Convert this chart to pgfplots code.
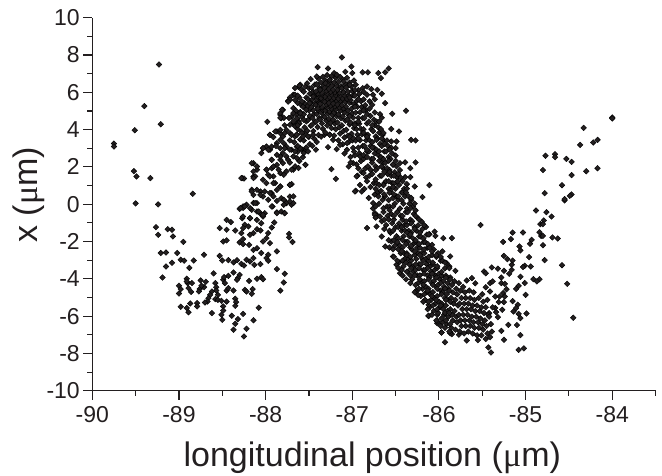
\documentclass[border=0pt]{standalone}
\usepackage{pgfplots}
\pgfplotsset{compat=1.18}
\usepackage{fontspec}
\setmainfont{Liberation Sans}
\newfontfamily\muf{Liberation Serif}
\definecolor{ink}{HTML}{231F20}
\begin{document}
\begin{tikzpicture}[x=1pt,y=1pt]
\useasboundingbox (-92.3pt,-84.3pt) rectangle (569.7pt,390.7pt);
\begin{axis}[
  scale only axis, width=563.3pt, height=373pt,
  xmin=-90, xmax=-83.5, ymin=-10, ymax=10,
  axis x line*=bottom, axis y line*=left,
  axis line style={ink,line width=1.2pt},
  every tick/.style={ink,line width=1.1pt},
  tick align=outside,
  major tick length=9pt, minor tick length=5pt,
  xtick={-90,-89,-88,-87,-86,-85,-84},
  xticklabels={-90,-89,-88,-87,-86,-85,-84},
  minor xtick={-89.5,-88.5,-87.5,-86.5,-85.5,-84.5,-83.5},
  ytick={-10,-8,-6,-4,-2,0,2,4,6,8,10},
  yticklabels={-10,-8,-6,-4,-2,0,2,4,6,8,10},
  minor ytick={-9,-7,-5,-3,-1,1,3,5,7,9},
  ticklabel style={font=\fontsize{23}{25}\selectfont,text=ink},
  xticklabel style={yshift=-3pt},
  xlabel={longitudinal position ({\muf μ}m)},
  ylabel={x ({\muf μ}m)},
  label style={font=\fontsize{34}{36}\selectfont,text=ink},
  xlabel style={at={(axis description cs:0.497,0)},anchor=base,yshift=-76pt},
  ylabel style={at={(axis description cs:0,0.525)},anchor=base,yshift=55pt},
  clip=false
]
\addplot[only marks,mark=square*,mark size=2pt,mark options={rotate=45,draw=none,fill=ink}] coordinates {
(-89.23,7.49)(-89.40,5.26)(-89.21,4.29)(-89.51,3.97)(-89.75,3.25)(-89.75,3.09)(-89.52,1.77)(-89.49,1.49)(-89.33,1.40)(-88.84,0.56)(-89.50,0.04)(-89.24,-0.01)(-88.27,1.40)(-88.25,1.38)(-87.98,4.42)
(-89.265,-1.23)(-89.24,-1.64)(-89.13,-1.34)(-89.08,-1.37)(-89.07,-1.73)(-88.95,-2.02)(-89.21,-2.62)(-89.15,-2.59)(-89.02,-2.62)(-88.71,-2.71)(-88.98,-2.98)(-88.94,-3.03)(-88.83,-3.02)(-89.08,-3.14)(-89.15,-3.34)(-88.88,-3.41)(-89.19,-3.93)(-88.53,-2.77)(-88.50,-3.02)(-88.43,-3.0)(-88.37,-3.12)(-88.33,-3.0)(-88.28,-3.2)(-88.25,-3.29)(-88.60,-3.71)
(-88.91,-4.0)(-88.9,-4.23)(-88.91,-4.14)(-88.89,-4.5)(-89.0,-4.37)(-88.98,-4.55)(-89.0,-4.79)(-88.85,-4.23)(-88.86,-4.7)(-88.75,-4.09)(-88.69,-4.16)(-88.71,-4.45)(-88.76,-4.55)(-88.74,-4.37)(-88.77,-4.68)(-88.58,-4.23)(-88.57,-4.45)(-88.57,-4.63)(-88.62,-4.68)(-88.64,-4.86)(-88.66,-5.04)(-88.67,-5.22)(-88.55,-4.86)(-88.58,-5.09)(-88.55,-5.13)(-88.51,-5.18)(-88.45,-5.22)(-88.49,-4.05)(-88.47,-4.23)(-88.43,-3.84)(-88.37,-3.66)(-88.48,-3.91)(-88.45,-4.63)(-88.37,-4.63)(-88.43,-4.5)(-88.3,-3.79)(-88.32,-3.96)(-88.33,-4.05)(-88.24,-4.59)(-88.22,-4.68)(-88.19,-4.11)(-88.15,-4.55)(-88.16,-4.8)(-88.1,-4.0)(-88.05,-3.91)(-88.03,-4.02)(-88.35,-5.07)(-88.34,-5.25)(-88.35,-5.45)(-88.49,-5.48)(-88.49,-5.7)(-88.51,-5.93)(-88.5,-6.2)(-88.62,-5.84)(-88.39,-5.98)(-88.32,-6.16)(-88.35,-6.41)(-88.37,-6.73)(-88.26,-5.88)(-88.22,-6.68)(-88.25,-7.09)(-88.14,-6.22)(-88.08,-5.55)(-88.98,-5.5)(-88.91,-5.57)(-88.89,-5.79)(-88.87,-5.32)(-88.79,-5.3)(-88.79,-5.48)(-88.7,-5.27)(-87.87,-3.48)(-87.78,-3.73)(-87.79,-4.2)(-87.83,-4.63)(-87.87,-2.53)(-87.73,-1.59)(-87.73,-1.78)(-87.69,-2.03)
(-88.14,0.06)(-88.10,0.06)(-88.26,-0.12)(-88.30,-0.25)(-88.22,-0.03)(-88.16,-0.30)(-88.10,-0.39)(-88.06,-0.51)(-88.03,-0.66)(-88.01,-0.48)(-88.27,-0.75)(-88.18,-0.75)(-88.10,-0.84)(-88.05,-1.02)(-88.24,-1.10)(-88.26,-1.28)(-88.20,-1.19)(-88.10,-1.34)(-88.06,-1.41)(-88.14,-1.55)(-88.18,-1.64)(-88.28,-1.55)(-87.97,-1.55)(-87.93,-1.25)(-87.90,-0.98)(-87.87,-0.44)(-87.82,-0.39)(-87.78,-0.48)(-87.92,-0.12)(-87.87,0.18)(-87.76,0.06)(-87.70,-0.03)(-87.99,-1.82)(-87.95,-2.09)(-88.03,-2.0)(-88.10,-2.36)(-88.14,-2.45)(-88.05,-2.62)(-87.97,-2.71)(-87.99,-2.89)(-87.97,-3.03)(-88.14,-2.89)(-88.18,-3.07)(-88.22,-2.98)(-88.49,-2.0)(-88.45,-1.94)(-88.26,-1.87)(-88.30,-2.05)(-88.26,-2.14)(-88.19,-2.18)(-88.53,-1.28)(-88.45,-0.84)(-88.40,-0.96)(-88.45,-1.37)(-88.35,-1.41)(-88.06,-3.21)(-88.13,-3.25)
(-87.62,6.28)(-87.68,5.87)(-87.72,5.72)(-87.74,5.54)(-87.80,5.06)(-87.83,4.79)(-87.82,4.61)(-87.68,5.15)(-87.64,4.79)(-87.70,4.70)(-87.68,4.35)(-87.72,4.26)(-87.62,4.44)(-87.95,3.72)(-87.91,3.6)(-87.87,3.9)(-87.83,3.81)(-87.80,3.63)(-87.76,3.99)(-87.72,3.81)(-87.66,3.63)(-88.03,3.0)(-87.99,3.09)(-87.95,2.92)(-88.05,2.74)(-87.93,2.38)(-87.87,3.27)(-87.83,3.0)(-87.8,2.74)(-87.76,3.09)(-87.7,2.92)(-87.64,3.09)(-87.68,2.56)(-87.76,2.56)(-87.62,2.38)(-87.83,2.38)(-87.8,2.2)(-87.87,2.11)(-87.93,1.93)(-87.99,1.85)(-87.97,1.58)(-88.03,1.31)(-88.14,2.2)(-88.10,1.85)(-88.14,1.49)(-87.91,1.49)(-87.83,1.67)(-87.76,1.76)(-87.68,1.85)(-87.72,1.04)(-88.16,0.77)(-88.06,0.68)(-88.14,0.5)(-88.03,0.41)(-87.93,0.59)(-87.87,0.77)(-87.82,0.32)(-87.72,0.41)(-87.68,0.06)(-88.26,-0.2)(-87.76,0.06)(-87.97,0.24)(-87.83,0.95)(-87.89,1.13)
(-87.12,7.87)(-87.40,7.35)(-87.28,7.28)(-87.01,7.38)(-86.58,7.28)(-87.08,7.1)(-87.0,7.03)(-86.88,7.07)(-86.82,7.07)(-86.70,7.03)(-86.62,7.07)(-86.67,6.76)(-87.48,6.71)(-87.21,7.03)(-86.38,5.01)(-86.54,4.85)(-86.62,5.42)(-86.83,6.31)(-86.78,6.17)(-86.71,6.13)(-86.66,5.92)(-86.83,5.87)(-86.76,5.87)(-86.80,5.51)(-86.74,5.63)(-86.74,4.92)(-86.55,4.03)(-86.46,3.9)(-86.32,3.45)(-86.27,3.42)(-86.49,3.36)(-86.55,3.36)(-86.5,3.01)(-86.5,2.61)(-86.27,2.24)(-86.39,2.24)(-86.45,2.2)(-86.33,1.93)(-86.39,1.45)(-86.33,1.45)(-86.11,1.02)(-86.28,0.95)(-86.37,1.08)(-86.19,0.38)(-87.24,1.88)(-87.19,1.36)(-87.09,2.72)(-87.54,2.11)(-87.57,2.52)(-87.42,2.92)(-87.70,1.08)(-87.28,3.06)(-87.18,2.95)(-87.32,3.72)
(-84.88,-0.34)(-84.76,-0.43)(-84.70,-0.66)(-84.79,-0.87)(-84.83,-1.07)(-84.80,-1.07)(-84.55,0.2)(-85.52,-1.12)(-85.15,-1.52)(-85.03,-1.52)(-84.84,-1.5)(-84.82,-1.7)(-84.80,-1.7)(-84.69,-1.78)(-84.63,-1.84)(-84.93,-1.91)(-85.17,-1.87)(-85.26,-2.02)(-84.95,-2.12)(-84.80,-2.2)(-85.07,-2.27)(-85.06,-2.48)(-84.96,-2.84)(-84.78,-3.0)(-84.58,-3.27)(-85.25,-2.77)(-85.21,-2.95)(-85.15,-3.02)(-85.16,-3.25)(-85.01,-3.3)(-85.03,-3.37)(-84.94,-3.34)(-85.39,-3.39)(-85.32,-3.46)(-85.48,-3.61)(-85.46,-3.7)(-85.25,-3.57)(-85.16,-3.52)(-85.19,-3.73)(-85.28,-3.93)(-85.06,-3.89)(-84.91,-4.02)(-84.84,-4.02)(-84.87,-4.14)(-85.01,-4.23)(-84.52,-4.27)(-85.28,-4.23)(-85.24,-4.27)(-85.08,-4.38)(-85.11,-4.54)(-85.22,-4.56)(-85.26,-4.77)(-85.0,-4.86)(-85.35,-4.95)(-85.30,-4.95)(-85.24,-4.95)(-85.31,-5.25)(-85.25,-5.25)(-85.15,-5.2)(-85.09,-5.39)(-85.11,-5.57)(-85.14,-5.75)(-85.08,-5.88)(-84.99,-5.86)(-85.06,-6.11)(-85.27,-5.66)(-85.35,-5.57)(-85.34,-5.79)(-85.32,-6.06)(-85.42,-5.84)(-85.2,-6.47)(-85.10,-6.48)(-85.28,-6.79)(-85.06,-7.02)(-85.25,-7.27)(-85.08,-7.81)(-85.02,-7.73)(-84.45,-6.09)(-85.43,-7.68)(-85.40,-7.95)(-85.55,-7.29)(-85.68,-7.31)(-85.77,-7.0)(-85.93,-7.4)(-85.97,-6.88)(-85.87,-6.83)(-85.85,-6.97)(-86.12,-6.0)(-86.02,-5.93)(-86.02,-6.38)(-86.05,-1.47)(-86.11,-1.61)(-86.04,-1.7)(-85.95,-1.82)(-85.85,-1.82)(-86.08,-2.18)(-85.96,-2.53)(-85.87,-2.8)(-85.91,-3.16)(-85.81,-3.57)(-85.68,-4.09)(-85.62,-3.96)(-85.58,-4.24)(-85.41,-4.23)(-85.46,-4.45)(-85.38,-4.14)(-85.41,-4.68)
(-84.0,4.65)(-84.0,4.6)(-84.33,4.09)(-84.17,3.45)(-84.22,3.31)(-84.37,3.18)(-84.77,2.6)(-84.66,2.68)(-84.66,2.52)(-84.53,2.43)(-84.47,2.27)(-84.80,1.83)(-84.17,1.93)(-84.30,1.77)(-84.47,1.56)(-84.58,1.02)(-84.78,0.59)(-84.47,0.52)(-84.49,0.45)(-84.55,0.27)
(-87.66,2.03)(-87.63,2.81)(-87.67,3.32)(-87.64,3.74)(-87.66,4.18)(-87.63,4.03)(-87.65,5.02)(-87.63,5.43)(-87.66,5.58)
(-87.61,2.31)(-87.58,2.93)(-87.60,3.47)(-87.59,3.91)(-87.61,4.32)(-87.58,4.68)(-87.60,4.94)(-87.59,5.33)(-87.61,5.71)(-87.58,6.12)(-87.60,6.41)
(-87.55,2.84)(-87.53,3.04)(-87.56,3.42)(-87.54,3.83)(-87.55,4.12)(-87.53,4.44)(-87.56,4.82)(-87.54,5.13)(-87.55,5.41)(-87.53,5.72)(-87.56,6.03)(-87.54,6.31)
(-87.51,2.83)(-87.49,3.22)(-87.50,3.61)(-87.52,3.94)(-87.48,4.21)(-87.51,4.52)(-87.49,4.73)(-87.50,5.02)(-87.52,5.24)(-87.48,5.43)(-87.51,5.62)(-87.49,5.93)(-87.50,6.22)(-87.52,6.48)
(-87.46,3.13)(-87.44,3.52)(-87.45,3.92)(-87.47,4.23)(-87.43,4.41)(-87.46,4.62)(-87.44,4.83)(-87.45,5.04)(-87.47,5.22)(-87.43,5.41)(-87.46,5.63)(-87.44,5.82)(-87.45,6.03)(-87.47,6.24)(-87.43,6.42)
(-87.41,3.34)(-87.39,3.71)(-87.40,4.13)(-87.42,4.42)(-87.38,4.61)(-87.41,4.83)(-87.39,5.02)(-87.40,5.14)(-87.42,5.33)(-87.38,5.44)(-87.41,5.62)(-87.39,5.73)(-87.40,5.92)(-87.42,6.04)(-87.38,6.22)(-87.41,6.43)(-87.39,6.74)
(-87.36,3.62)(-87.34,4.04)(-87.35,4.33)(-87.37,4.54)(-87.33,4.73)(-87.36,4.92)(-87.34,5.06)(-87.35,5.22)(-87.37,5.38)(-87.33,5.53)(-87.36,5.68)(-87.34,5.84)(-87.35,5.98)(-87.37,6.14)(-87.33,6.32)(-87.36,6.52)(-87.34,6.83)
(-87.31,3.84)(-87.29,4.22)(-87.30,4.48)(-87.32,4.68)(-87.28,4.86)(-87.31,5.03)(-87.29,5.18)(-87.30,5.34)(-87.32,5.49)(-87.28,5.63)(-87.31,5.78)(-87.29,5.93)(-87.30,6.08)(-87.32,6.24)(-87.28,6.42)(-87.31,6.63)(-87.29,6.92)
(-87.26,3.73)(-87.24,4.08)(-87.25,4.36)(-87.27,4.58)(-87.23,4.78)(-87.26,4.96)(-87.24,5.12)(-87.25,5.28)(-87.27,5.43)(-87.23,5.58)(-87.26,5.73)(-87.24,5.88)(-87.25,6.02)(-87.27,6.18)(-87.23,6.36)(-87.26,6.58)(-87.24,6.86)
(-87.21,3.68)(-87.19,4.02)(-87.20,4.32)(-87.22,4.53)(-87.18,4.72)(-87.21,4.91)(-87.19,5.08)(-87.20,5.24)(-87.22,5.39)(-87.18,5.54)(-87.21,5.69)(-87.19,5.84)(-87.20,5.99)(-87.22,6.14)(-87.18,6.31)(-87.21,6.52)(-87.19,6.78)
(-87.16,3.42)(-87.14,3.78)(-87.15,4.12)(-87.17,4.38)(-87.13,4.61)(-87.16,4.82)(-87.14,5.01)(-87.15,5.18)(-87.17,5.34)(-87.13,5.51)(-87.16,5.66)(-87.14,5.82)(-87.15,5.98)(-87.17,6.13)(-87.13,6.33)(-87.16,6.56)(-87.14,6.82)
(-87.11,3.22)(-87.09,3.58)(-87.10,3.93)(-87.12,4.23)(-87.08,4.48)(-87.11,4.71)(-87.09,4.92)(-87.10,5.13)(-87.12,5.31)(-87.08,5.49)(-87.11,5.66)(-87.09,5.84)(-87.10,6.02)(-87.12,6.22)(-87.08,6.44)(-87.11,6.68)
(-87.06,2.92)(-87.04,3.34)(-87.05,3.68)(-87.07,3.99)(-87.03,4.28)(-87.06,4.53)(-87.04,4.78)(-87.05,5.02)(-87.07,5.23)(-87.03,5.44)(-87.06,5.64)(-87.04,5.83)(-87.05,6.03)(-87.07,6.26)(-87.03,6.52)(-87.06,6.78)
(-87.02,2.53)(-86.99,3.02)(-87.00,3.42)(-87.01,3.78)(-86.98,4.08)(-87.02,4.38)(-86.99,4.64)(-87.00,4.88)(-87.01,5.12)(-86.98,5.36)(-87.02,5.58)(-86.99,5.83)(-87.00,6.07)(-87.01,6.32)(-86.98,6.63)
(-86.96,0.72)(-86.94,1.53)(-86.95,2.13)(-86.97,2.62)(-86.93,3.03)(-86.96,3.41)(-86.94,3.72)(-86.95,4.02)(-86.97,4.33)(-86.93,4.63)(-86.96,4.91)(-86.94,5.22)(-86.95,5.53)(-86.97,5.82)(-86.93,6.12)(-86.96,6.41)
(-86.91,1.03)(-86.89,1.72)(-86.90,2.31)(-86.92,2.73)(-86.88,3.12)(-86.91,3.43)(-86.89,3.74)(-86.90,4.03)(-86.92,4.31)(-86.88,4.62)(-86.91,4.93)(-86.89,5.21)(-86.90,5.52)(-86.92,5.91)(-86.88,6.22)
(-86.86,0.82)(-86.84,1.43)(-86.85,1.92)(-86.87,2.43)(-86.83,2.82)(-86.86,3.13)(-86.84,3.42)(-86.85,3.73)(-86.87,4.02)(-86.83,4.33)(-86.86,4.62)(-86.84,5.03)(-86.85,5.31)(-86.87,5.62)
(-86.81,0.33)(-86.79,0.92)(-86.80,1.53)(-86.82,2.03)(-86.78,2.42)(-86.81,2.83)(-86.79,3.12)(-86.80,3.43)(-86.82,3.72)(-86.78,4.03)(-86.81,4.42)(-86.79,4.73)(-86.80,5.12)
(-86.76,-0.23)(-86.74,0.52)(-86.75,1.13)(-86.77,1.62)(-86.73,2.03)(-86.76,2.43)(-86.74,2.72)(-86.75,3.03)(-86.77,3.32)(-86.73,3.63)(-86.76,3.92)(-86.74,4.23)(-86.75,4.53)
(-86.71,-0.62)(-86.69,0.03)(-86.70,0.63)(-86.72,1.12)(-86.68,1.53)(-86.71,1.93)(-86.69,2.33)(-86.70,2.63)(-86.72,2.92)(-86.68,3.23)(-86.71,3.52)(-86.69,3.83)(-86.70,4.12)(-86.72,4.43)(-86.68,4.82)
(-86.66,-0.92)(-86.64,-0.42)(-86.65,0.23)(-86.67,0.72)(-86.63,1.13)(-86.66,1.53)(-86.64,1.92)(-86.65,2.23)(-86.67,2.52)(-86.63,2.83)(-86.66,3.12)(-86.64,3.43)(-86.65,3.72)(-86.67,4.03)
(-86.61,-1.12)(-86.59,-0.62)(-86.60,-0.12)(-86.62,0.42)(-86.58,0.83)(-86.61,1.23)(-86.59,1.62)(-86.60,1.93)(-86.62,2.22)(-86.58,2.53)(-86.61,2.83)(-86.59,3.13)(-86.60,3.42)
(-86.56,-1.53)(-86.54,-1.02)(-86.55,-0.52)(-86.57,-0.13)(-86.53,0.33)(-86.56,0.72)(-86.54,1.13)(-86.55,1.52)(-86.57,1.83)(-86.53,2.12)(-86.56,2.43)(-86.54,2.72)(-86.55,3.03)
(-86.51,-2.23)(-86.49,-1.72)(-86.50,-1.23)(-86.52,-0.83)(-86.48,-0.42)(-86.51,0.03)(-86.49,0.42)(-86.50,0.83)(-86.52,1.12)(-86.48,1.43)(-86.51,1.72)(-86.49,2.03)(-86.50,2.33)
(-86.46,-3.12)(-86.44,-2.63)(-86.45,-2.22)(-86.47,-1.83)(-86.43,-1.42)(-86.46,-1.03)(-86.44,-0.62)(-86.45,-0.23)(-86.47,0.23)(-86.43,0.63)(-86.46,1.03)(-86.44,1.42)(-86.45,1.83)
(-86.41,-3.33)(-86.39,-2.92)(-86.40,-2.63)(-86.42,-2.32)(-86.38,-2.02)(-86.41,-1.73)(-86.39,-1.42)(-86.40,-1.13)(-86.42,-0.83)(-86.38,-0.42)(-86.41,0.03)(-86.39,0.42)(-86.40,0.83)(-86.42,1.23)
(-86.36,-3.62)(-86.34,-3.23)(-86.35,-2.92)(-86.37,-2.63)(-86.33,-2.32)(-86.36,-2.03)(-86.34,-1.72)(-86.35,-1.43)(-86.37,-1.12)(-86.33,-0.83)(-86.36,-0.42)(-86.34,0.03)(-86.35,0.42)(-86.37,0.83)
(-86.31,-4.03)(-86.29,-3.62)(-86.30,-3.33)(-86.32,-3.02)(-86.28,-2.72)(-86.31,-2.43)(-86.29,-2.12)(-86.30,-1.83)(-86.32,-1.52)(-86.28,-1.23)(-86.31,-0.92)(-86.29,-0.52)(-86.30,-0.13)(-86.32,0.22)
(-86.26,-4.63)(-86.24,-4.23)(-86.25,-3.82)(-86.27,-3.53)(-86.23,-3.22)(-86.26,-2.93)(-86.24,-2.62)(-86.25,-2.33)(-86.27,-2.02)(-86.23,-1.73)(-86.26,-1.42)(-86.24,-1.13)(-86.25,-0.72)(-86.27,-0.33)
(-86.21,-4.92)(-86.19,-4.53)(-86.20,-4.13)(-86.22,-3.82)(-86.18,-3.53)(-86.21,-3.23)(-86.19,-2.92)(-86.20,-2.63)(-86.22,-2.33)(-86.18,-2.03)(-86.21,-1.73)(-86.19,-1.33)(-86.20,-0.93)
(-86.16,-5.13)(-86.14,-4.72)(-86.15,-4.43)(-86.17,-4.13)(-86.13,-3.82)(-86.16,-3.53)(-86.14,-3.22)(-86.15,-2.93)(-86.17,-2.63)(-86.13,-2.33)(-86.16,-2.03)(-86.14,-1.63)(-86.15,-1.22)
(-86.11,-5.53)(-86.09,-5.13)(-86.10,-4.83)(-86.12,-4.53)(-86.08,-4.23)(-86.11,-3.93)(-86.09,-3.62)(-86.10,-3.33)(-86.12,-3.03)(-86.08,-2.72)(-86.11,-2.33)
(-86.06,-5.72)(-86.04,-5.33)(-86.05,-5.03)(-86.07,-4.72)(-86.03,-4.43)(-86.06,-4.13)(-86.04,-3.83)(-86.05,-3.52)(-86.07,-3.23)(-86.03,-2.83)(-86.06,-2.43)
(-86.01,-5.83)(-85.99,-5.53)(-86.00,-5.23)(-86.02,-4.93)(-85.98,-4.63)(-86.01,-4.33)(-85.99,-4.03)(-86.00,-3.73)(-86.02,-3.43)(-85.98,-3.03)(-86.01,-2.63)
(-85.96,-6.33)(-85.94,-5.93)(-85.95,-5.62)(-85.97,-5.33)(-85.93,-5.03)(-85.96,-4.73)(-85.94,-4.43)(-85.95,-4.13)(-85.97,-3.83)(-85.93,-3.43)(-85.96,-3.03)
(-85.91,-6.43)(-85.89,-6.03)(-85.90,-5.73)(-85.92,-5.43)(-85.88,-5.13)(-85.91,-4.83)(-85.89,-4.53)(-85.90,-4.23)(-85.92,-3.83)(-85.88,-3.33)
(-85.86,-6.62)(-85.84,-6.23)(-85.85,-5.93)(-85.87,-5.63)(-85.83,-5.33)(-85.86,-5.03)(-85.84,-4.73)(-85.85,-4.33)(-85.87,-3.93)
(-85.81,-6.73)(-85.79,-6.33)(-85.80,-6.03)(-85.82,-5.73)(-85.78,-5.43)(-85.81,-5.13)(-85.79,-4.83)(-85.80,-4.53)(-85.82,-4.13)
(-85.76,-6.82)(-85.74,-6.53)(-85.75,-6.23)(-85.77,-5.93)(-85.73,-5.63)(-85.76,-5.33)(-85.74,-5.03)(-85.75,-4.63)(-85.77,-4.23)
(-85.71,-6.93)(-85.69,-6.53)(-85.70,-6.23)(-85.72,-5.93)(-85.68,-5.63)(-85.71,-5.33)(-85.69,-5.03)(-85.70,-4.73)(-85.72,-4.43)
(-85.66,-6.83)(-85.64,-6.53)(-85.65,-6.23)(-85.67,-5.93)(-85.63,-5.63)(-85.66,-5.33)(-85.64,-5.03)(-85.65,-4.63)
(-85.61,-6.93)(-85.59,-6.63)(-85.60,-6.33)(-85.62,-6.03)(-85.58,-5.73)(-85.61,-5.43)(-85.59,-5.13)(-85.60,-4.73)
(-85.56,-7.03)(-85.54,-6.63)(-85.55,-6.33)(-85.57,-6.03)(-85.53,-5.73)(-85.56,-5.43)(-85.54,-5.03)
(-85.51,-7.03)(-85.49,-6.73)(-85.50,-6.43)(-85.52,-6.13)(-85.48,-5.83)(-85.51,-5.53)(-85.49,-5.23)(-85.50,-4.83)
(-85.46,-7.23)(-85.44,-6.93)(-85.45,-6.53)(-85.47,-6.23)(-85.43,-5.93)(-85.46,-5.53)(-85.44,-5.13)
(-85.41,-7.13)(-85.39,-6.83)(-85.40,-6.43)(-85.42,-6.03)(-85.38,-5.53)
(-87.83,4.88)(-87.81,5.07)(-87.79,4.63)(-87.83,4.63)(-87.66,6.23)(-87.61,6.35)(-87.72,5.6)(-87.74,5.5)(-87.66,5.87)(-87.58,5.5)(-87.68,4.88)(-87.64,4.6)(-87.60,4.88)(-87.56,4.53)(-87.62,4.35)(-87.68,4.44)(-87.53,5.06)(-87.49,5.42)(-87.45,5.77)
(-87.95,3.72)(-87.89,3.9)(-87.83,3.99)(-87.78,3.81)(-87.70,3.72)(-87.64,3.72)(-87.58,3.81)(-87.51,3.63)(-87.45,3.72)(-87.83,3.45)(-87.79,3.27)(-88.03,3.0)(-87.97,2.92)(-87.93,3.09)(-87.78,3.0)(-87.72,2.92)(-87.66,2.83)(-87.60,3.0)(-87.56,2.74)(-87.64,2.47)(-87.74,2.38)(-87.83,2.56)(-87.87,2.65)(-87.93,2.38)
(-88.16,2.2)(-88.10,2.02)(-88.14,1.76)(-88.12,1.49)(-87.99,1.85)(-87.91,2.02)(-87.85,1.85)(-87.79,1.58)(-87.70,1.85)(-87.62,1.94)(-87.54,2.11)(-88.28,1.4)(-88.14,1.4)(-87.95,1.49)(-87.99,1.13)(-87.91,1.13)(-87.83,0.95)(-87.72,1.04)(-87.79,0.24)
(-88.16,0.68)(-88.10,0.77)(-88.06,0.5)(-88.01,0.68)(-87.95,0.6)(-87.91,0.42)(-87.72,0.15)(-87.68,0.42)(-87.79,-0.03)(-87.87,-0.48)(-87.78,-0.48)(-88.24,-0.12)(-88.29,-0.21)(-88.18,-0.21)(-88.12,0.06)(-88.08,-0.39)(-88.03,-0.57)(-88.26,-0.66)(-88.18,-0.75)(-87.93,-0.12)
(-87.26,3.72)(-87.22,3.45)(-87.14,3.18)(-87.06,3.27)(-86.99,3.54)(-87.04,2.02)(-86.99,2.2)(-86.91,2.56)(-86.83,2.92)(-86.72,3.45)(-86.97,0.68)(-86.89,0.68)(-86.95,1.49)(-86.87,1.67)(-86.79,1.85)(-86.74,-0.48)(-86.68,-0.66)(-86.76,0.06)(-86.70,0.42)(-87.41,6.85)(-87.31,6.49)(-87.26,6.67)(-87.18,6.94)(-87.10,6.58)(-87.03,6.4)
(-86.83,-1.28)(-86.74,-0.57)(-86.72,-1.2)(-86.66,-1.73)(-86.62,-2.27)(-86.55,-2.0)(-86.53,-2.8)(-86.49,-3.25)(-86.45,-3.7)(-86.33,-4.23)(-86.24,-4.86)(-86.12,-5.4)(-86.12,-5.98)(-86.02,-6.29)(-85.97,-6.88)(-85.87,-6.92)
(-86.73,-0.72)(-86.73,-0.12)(-86.73,0.82)(-86.73,1.33)(-86.73,1.83)
(-86.63,-1.33)(-86.63,-0.83)(-86.64,-0.22)(-86.63,0.52)(-86.64,1.02)(-86.63,1.73)(-86.64,2.42)(-86.63,3.23)(-86.64,3.82)
(-86.57,-2.32)(-86.58,-1.93)(-86.57,-1.42)(-86.58,-0.82)(-86.57,-0.32)(-86.58,0.22)(-86.57,0.62)(-86.58,1.23)(-86.57,1.72)(-86.58,2.33)(-86.57,2.93)
(-86.52,-2.83)(-86.53,-2.42)(-86.52,-1.93)(-86.53,-1.42)(-86.52,-0.62)(-86.53,-0.12)(-86.52,0.53)(-86.53,0.92)(-86.52,1.53)(-86.53,2.13)
(-86.47,-3.42)(-86.48,-3.03)(-86.47,-2.42)(-86.48,-2.03)(-86.47,-1.22)(-86.48,-0.43)(-86.47,0.42)(-86.48,1.22)(-86.47,1.62)
(-86.42,-3.83)(-86.43,-3.53)(-86.42,-3.03)(-86.43,-2.52)(-86.42,-1.92)(-86.43,-1.23)(-86.42,-0.63)(-86.43,0.22)(-86.42,0.62)
(-86.38,-4.03)(-86.37,-3.62)(-86.38,-3.13)(-86.37,-2.73)(-86.38,-2.13)(-86.37,-1.53)(-86.38,-0.92)(-86.37,-0.23)(-86.38,0.63)
(-86.33,-3.82)(-86.32,-3.43)(-86.33,-2.82)(-86.32,-2.23)(-86.33,-1.62)(-86.32,-1.03)(-86.33,-0.22)(-86.32,0.33)
(-86.28,-4.72)(-86.27,-4.33)(-86.28,-3.82)(-86.27,-3.23)(-86.28,-2.53)(-86.27,-1.93)(-86.28,-1.33)(-86.27,-0.63)(-86.28,0.03)
(-86.23,-4.53)(-86.22,-4.03)(-86.23,-3.43)(-86.22,-2.73)(-86.23,-2.13)(-86.22,-1.53)(-86.23,-0.82)
(-86.18,-5.23)(-86.17,-4.83)(-86.18,-4.32)(-86.17,-3.72)(-86.18,-3.03)(-86.17,-2.43)(-86.18,-1.83)(-86.17,-1.13)
(-86.13,-5.63)(-86.12,-5.23)(-86.13,-4.63)(-86.12,-4.03)(-86.13,-3.43)(-86.12,-2.83)(-86.13,-2.13)(-86.12,-1.62)
(-86.08,-5.93)(-86.07,-5.43)(-86.08,-4.93)(-86.07,-4.33)(-86.08,-3.73)(-86.07,-3.13)(-86.08,-2.53)
(-86.03,-6.23)(-86.02,-5.63)(-86.03,-5.13)(-86.02,-4.53)(-86.03,-3.93)(-86.02,-3.33)(-86.03,-2.73)
(-85.98,-6.53)(-85.97,-6.13)(-85.98,-5.43)(-85.97,-4.83)(-85.98,-4.23)(-85.97,-3.63)(-85.98,-2.83)
(-85.93,-6.63)(-85.92,-6.23)(-85.93,-5.83)(-85.92,-5.13)(-85.93,-4.53)(-85.92,-3.93)(-85.93,-3.13)
(-85.88,-6.83)(-85.87,-6.43)(-85.88,-5.83)(-85.87,-5.23)(-85.88,-4.63)(-85.87,-4.03)(-85.88,-3.43)
(-87.02,2.23)(-86.98,2.82)(-87.03,3.62)(-86.97,4.23)(-87.03,4.72)(-86.97,5.23)(-87.03,5.72)(-86.97,6.12)
(-86.93,1.92)(-86.87,2.63)(-86.93,3.53)(-86.87,3.83)(-86.93,4.43)(-86.87,5.03)(-86.93,5.63)(-86.87,6.03)
(-86.83,1.23)(-86.77,2.23)(-86.83,2.53)(-86.77,3.03)(-86.83,3.62)(-86.77,4.23)(-86.83,4.83)(-86.77,5.33)
(-86.69,1.03)(-86.66,2.03)(-86.69,2.83)(-86.66,3.53)(-86.69,4.43)(-86.66,4.63)
(-87.63,3.12)(-87.57,3.63)(-87.63,4.23)(-87.57,5.23)(-87.63,5.82)(-87.72,3.42)(-87.73,4.62)(-87.78,4.23)(-87.88,3.12)(-87.72,2.23)
};
\end{axis}
\end{tikzpicture}
\end{document}
